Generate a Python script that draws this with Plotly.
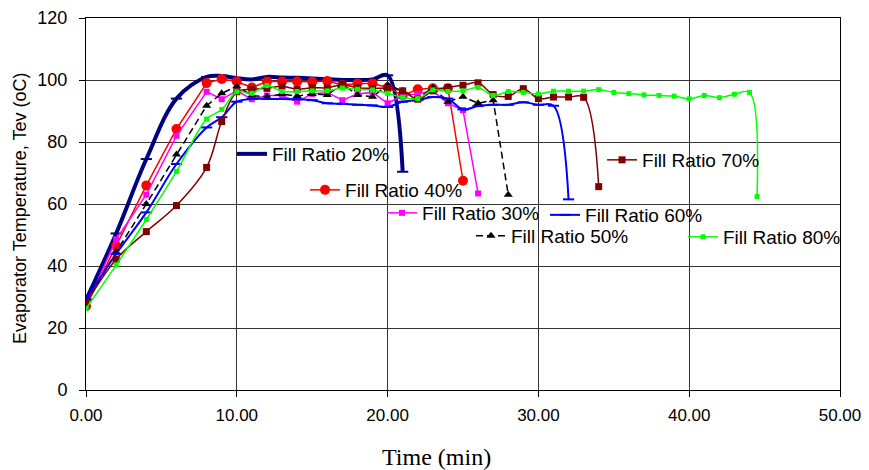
import plotly.graph_objects as go

# ---------------- data ----------------
t20 = [0, 2, 4, 6, 8, 9, 10, 11, 12, 13, 14, 15, 16, 17, 18, 19, 20, 21]
v20 = [29, 50.5, 74.5, 94, 101, 101.3, 100.6, 100.2, 101, 100.8, 100.7, 100.5, 100.3, 100, 100, 100.2, 101.5, 70.4]

t40 = [0, 2, 4, 6, 8, 9, 10, 11, 12, 13, 14, 15, 16, 17, 18, 19, 20, 21, 22, 23, 24, 25]
v40 = [27, 46.5, 66, 84.2, 99, 100.3, 99.5, 97.6, 99.5, 99.5, 99.5, 99.4, 99.7, 98.4, 98.9, 98.9, 97.6, 95, 97, 97.3, 97.3, 67.5]

t30 = [0, 2, 4, 6, 8, 9, 10, 11, 12, 13, 14, 15, 16, 17, 18, 19, 20, 21, 22, 23, 24, 25, 26]
v30 = [27, 48.6, 63, 82, 96.2, 93.8, 96.5, 93.8, 95, 95, 93, 95.5, 96, 93.5, 95.5, 96, 92.5, 95, 95.5, 96.5, 92.5, 90.3, 63.4]

t50 = [0, 2, 4, 6, 8, 9, 10, 11, 12, 13, 14, 15, 16, 17, 18, 19, 20, 21, 22, 23, 24, 25, 26, 27, 28]
v50 = [28, 44.5, 60, 76, 91.7, 95.7, 98, 95, 94.6, 95.5, 94.8, 95.5, 95.2, 98.7, 95.2, 94.6, 98.4, 96.5, 94, 97.5, 93, 94.6, 92.5, 93.5, 63]

t60 = [0, 2, 4, 6, 8, 9, 10, 11, 12, 13, 14, 15, 16, 17, 18, 19, 20, 21, 22, 23, 24, 25, 26, 27, 28, 29, 30, 31, 32]
v60 = [29.3, 43.9, 57.3, 72.9, 84.7, 88, 93, 93.9, 93.9, 93.9, 93.8, 93.5, 92.5, 92.3, 92, 91.8, 91.3, 93, 93.5, 94.5, 94,
       90.5, 91.6, 92, 92, 92.8, 92, 91.7, 61.5]

t70 = [0, 2, 4, 6, 8, 9, 10, 11, 12, 13, 14, 15, 16, 17, 18, 19, 20, 21, 22, 23, 24, 25, 26, 27, 28, 29, 30, 31, 32, 33, 34]
v70 = [28, 42.2, 51.1, 59.5, 71.8, 86.6, 96.2, 97, 97.3, 98, 97, 97.5, 97.5, 98.5, 97.5, 97.3, 97.3, 96.5, 93.8, 96.5,
       97.6, 98.3, 99.1, 95.3, 94.7, 97.2, 94, 94.5, 94.5, 94.4, 65.6]

t80 = [0, 2, 4, 6, 8, 9, 10, 11, 12, 13, 14, 15, 16, 17, 18, 19, 20, 21, 22, 23, 24, 25, 26, 27, 28, 29, 30, 31, 32,
       33, 34, 35, 36, 37, 38, 39, 40, 41, 42, 43, 44, 44.5]
v80 = [26.3, 40.3, 55, 70.5, 87.4, 90.5, 96.2, 95.7, 98.2, 96.3, 96.3, 96.5, 96.5, 97.4, 97, 96.8, 95.7, 94.4, 94, 96.8,
       96.3, 96.5, 97.6, 95, 96.3, 96, 95.5, 96.4, 96.4, 96.4, 96.9, 96, 95.6, 95.2, 95, 94.8, 93.9, 95, 94.3, 95.4, 96, 62.4]

x_ticks = [0, 10, 20, 30, 40, 50]
y_ticks = [0, 20, 40, 60, 80, 100, 120]

# ---------------- figure ----------------
FONT = "Liberation Sans, Arial, sans-serif"
fig = go.Figure()

series = [
    # name, t, v, color, width, dash, symbol, msize, shape, legend id, legend x, legend y
    ("Fill Ratio 20%", t20, v20, "#000080", 4, "solid", "line-ew", 8, "spline", "legend", 0.1936, 0.6344),
    ("Fill Ratio 40%", t40, v40, "#FF0000", 1.5, "solid", "circle", 10, "linear", "legend2", 0.2905, 0.5376),
    ("Fill Ratio 30%", t30, v30, "#FF00FF", 1.5, "solid", "square", 6, "linear", "legend3", 0.3926, 0.4758),
    ("Fill Ratio 50%", t50, v50, "#000000", 1.5, "7px,4px", "triangle-up", 8, "linear", "legend4", 0.5106, 0.4140),
    ("Fill Ratio 60%", t60, v60, "#0000FF", 2, "solid", "line-ew", 8, "spline", "legend5", 0.6088, 0.4704),
    ("Fill Ratio 70%", t70, v70, "#800000", 1.5, "solid", "square", 7, "spline", "legend6", 0.6844, 0.6183),
    ("Fill Ratio 80%", t80, v80, "#00FF00", 1.5, "solid", "square", 5, "spline", "legend7", 0.7918, 0.4113),
]

legend_layouts = {}
for name, t, v, col, w, dash, sym, ms, shape, lg, lx, ly in series:
    marker = dict(symbol=sym, size=ms, color=col)
    if sym.startswith("line"):
        marker["line"] = dict(color=col, width=2)
    fig.add_trace(go.Scatter(
        x=t, y=v, name=name, mode="lines+markers",
        line=dict(color=col, width=w, dash=dash, shape=shape, smoothing=1),
        marker=marker, legend=lg, showlegend=True,
    ))
    legend_layouts[lg] = dict(
        x=lx, y=ly, xanchor="left", yanchor="middle", xref="paper", yref="paper",
        bgcolor="rgba(0,0,0,0)", borderwidth=0,
        font=dict(family=FONT, size=19, color="black"),
    )

fig.update_layout(**legend_layouts)

axis_common = dict(
    showline=True, linecolor="black", linewidth=1, mirror=True,
    showgrid=True, gridcolor="#333333", gridwidth=1,
    ticks="outside", tickcolor="black", ticklen=6, tickwidth=1,
    zeroline=False,
)

fig.update_xaxes(range=[0, 50], tickvals=x_ticks, tickformat=".2f", ticklabelstandoff=4,
                 tickfont=dict(family=FONT, size=17, color="black"), **axis_common)
fig.update_yaxes(range=[0, 120], tickvals=y_ticks, ticklabelstandoff=8,
                 tickfont=dict(family=FONT, size=18, color="black"), **axis_common)

fig.update_layout(
    width=869, height=470,
    margin=dict(l=86, r=29, t=18, b=80, autoexpand=False),
    paper_bgcolor="white", plot_bgcolor="white",
    showlegend=True,
    annotations=[
        dict(text="Evaporator Temperature, Tev (oC)", x=-0.0875, y=0.4866, xref="paper", yref="paper",
             textangle=-90, showarrow=False, xanchor="center", yanchor="middle",
             font=dict(family=FONT, size=18, color="black")),
        dict(text="Time (min)", x=0.4642, y=-0.1801, xref="paper", yref="paper",
             showarrow=False, xanchor="center", yanchor="middle",
             font=dict(family="Liberation Serif, Times New Roman, serif", size=24, color="black")),
    ],
)

fig.write_html("out.html",
               config={"displayModeBar": False},
               post_script="document.body.style.margin='0';document.body.style.padding='0';")
